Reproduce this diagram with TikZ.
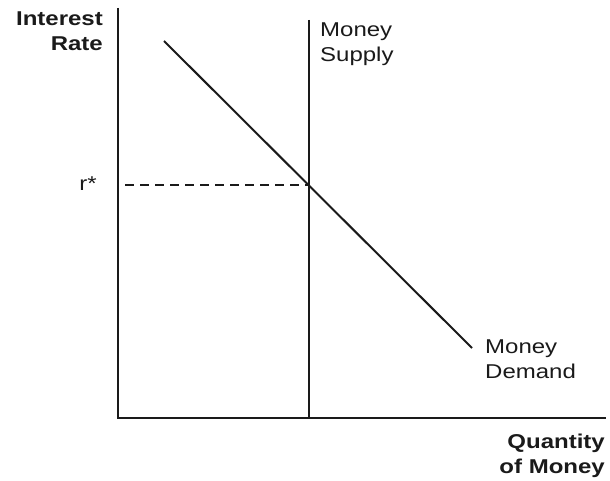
\documentclass[tikz,border=0pt]{standalone}
\usepackage{fontspec}
\setmainfont{Liberation Sans}[FakeStretch=1.2]
\usetikzlibrary{positioning}
\definecolor{mmInk}{HTML}{1A1A1A}
\tikzset{
  mmAxis/.style={draw=mmInk, line width=2.6pt},
  mmCurve/.style={draw=mmInk, line width=2pt},
  mmGuide/.style={draw=mmInk, line width=2pt, dash pattern=on 9pt off 6pt},
  mmLabel/.style={
    font=\fontsize{20}{25}\selectfont,
    text=mmInk,
    inner sep=0pt
  },
  mmTitle/.style={mmLabel, font=\fontsize{20}{25}\selectfont\bfseries}
}

\begin{document}
\begin{tikzpicture}[x=1pt,y=-1pt]
  \useasboundingbox (0,0) rectangle (610,481);

  \coordinate (origin) at (118,418);
  \coordinate (ytop) at (118,8);
  \coordinate (xend) at (606,418);
  \coordinate (msTop) at (309,20);
  \coordinate (msBot) at (309,418);
  \coordinate (mdTop) at (164,41);
  \coordinate (mdBot) at (472,348);
  \coordinate (eq) at (309,185);
  \coordinate (rStart) at (125,185);

  \draw[mmAxis] (ytop) -- (origin) -- (xend);
  \draw[mmCurve] (msTop) -- (msBot);
  \draw[mmCurve] (mdTop) -- (mdBot);
  \draw[mmGuide] (rStart) -- (eq);

  \node[mmTitle, align=right, anchor=north east] (yLabel) at (103,12) {Interest\\Rate};
  \node[mmTitle, align=right, anchor=north east] (xLabel) at (605,434) {Quantity\\of Money};
  \node[mmLabel, align=left, anchor=north west] (msLabel) at (320,23) {Money\\Supply};
  \node[mmLabel, align=left, anchor=north west] (mdLabel) at (485,340) {Money\\Demand};
  \node[mmLabel, anchor=east] (rLabel) at (97,184) {r*};
\end{tikzpicture}
\end{document}
